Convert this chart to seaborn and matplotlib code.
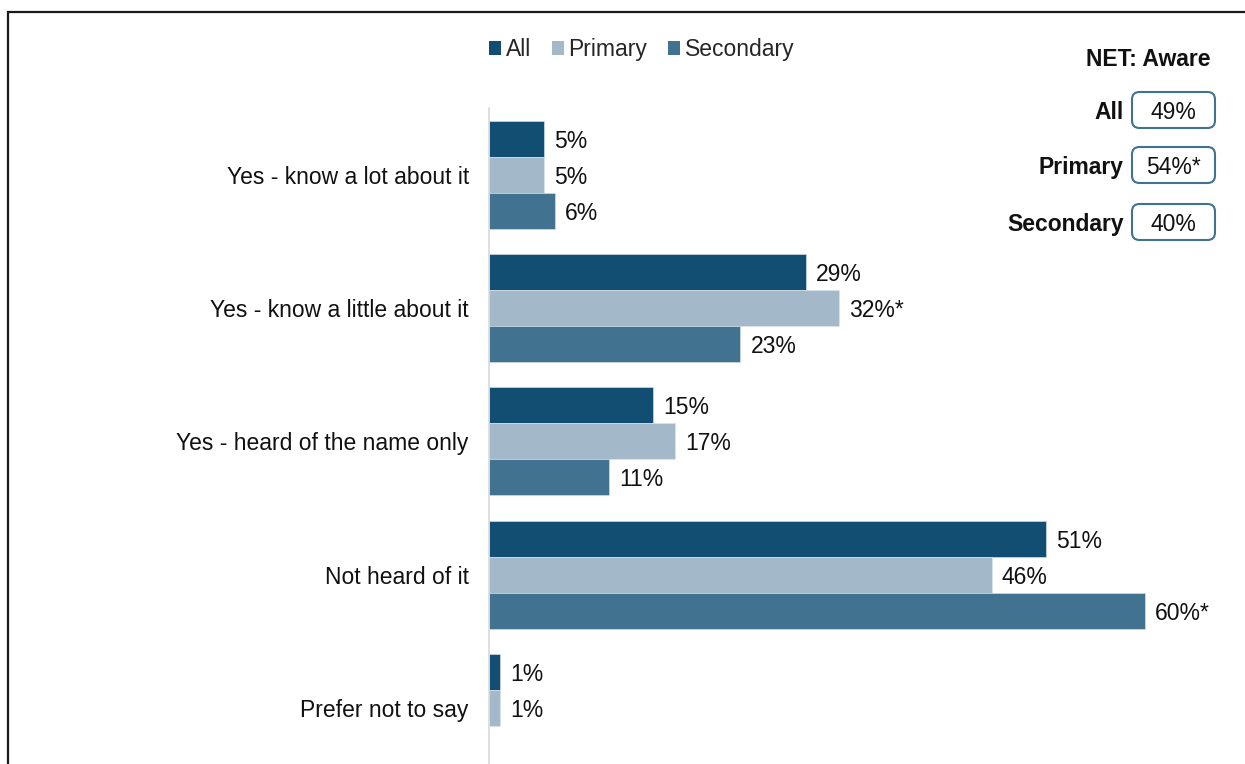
import numpy as np
import pandas as pd
import matplotlib
matplotlib.use("Agg")
import matplotlib.pyplot as plt
from matplotlib.patches import Rectangle, FancyBboxPatch
import seaborn as sns

# Survey responses (% of respondents)
categories = [
    "Yes - know a lot about it",
    "Yes - know a little about it",
    "Yes - heard of the name only",
    "Not heard of it",
    "Prefer not to say",
]
groups = ["All", "Primary", "Secondary"]
all_values = [5, 29, 15, 51, 1]
primary_values = [5, 32, 17, 46, 1]
secondary_values = [6, 23, 11, 60, np.nan]
# significance markers shown next to the value
primary_sig = [False, True, False, False, False]
secondary_sig = [False, False, False, True, False]
all_sig = [False] * 5

net_labels = ["All", "Primary", "Secondary"]
net_values = ["49%", "54%*", "40%"]

colors = {"All": "#114e72", "Primary": "#a3b9c9", "Secondary": "#41728f"}

sns.set_theme(style="white")
plt.rcParams["font.family"] = ["Liberation Sans", "DejaVu Sans"]

W, H = 1245, 764
fig = plt.figure(figsize=(W / 100, H / 100), dpi=100)

def fx(px):
    return px / W

def fy(py):
    return 1 - py / H

# axes geometry in pixels
ax_left, ax_right, ax_top = 489, 1230, 108
cat_step = 133.3
ax_bottom = ax_top + cat_step * len(categories)
ax = fig.add_axes([fx(ax_left), fy(ax_bottom), fx(ax_right - ax_left),
                   (ax_bottom - ax_top) / H])

df = pd.DataFrame({
    "category": categories * 3,
    "group": sum([[g] * len(categories) for g in groups], []),
    "value": all_values + primary_values + secondary_values,
})
df = df.dropna()

sns.barplot(data=df, x="value", y="category", hue="group", order=categories,
            hue_order=groups, palette=colors, orient="h", width=0.81,
            dodge=True, saturation=1, legend=False, ax=ax,
            edgecolor="#dfe7ee", linewidth=0.4)

sig_map = {"All": all_sig, "Primary": primary_sig, "Secondary": secondary_sig}
for grp, container in zip(groups, ax.containers):
    for bar in container:
        w = bar.get_width()
        if np.isnan(w):
            continue
        yc = bar.get_y() + bar.get_height() / 2
        idx = int(round(yc))
        label = f"{w:.0f}%" + ("*" if sig_map[grp][idx] else "")
        ax.annotate(label, xy=(w, yc), xytext=(7.3, 0), textcoords="offset points",
                    ha="left", va="center_baseline", fontsize=16.5, color="#111111")

px_per_pct = 10.93
ax.set_xlim(0, (ax_right - ax_left) / px_per_pct)
ax.set_ylim(len(categories) - 0.5, -0.5)
ax.set_xlabel("")
ax.set_ylabel("")
ax.set_xticks([])
ax.tick_params(axis="y", length=0, pad=14.5, labelsize=16.5, labelcolor="#111111")
for s in ["top", "right", "bottom"]:
    ax.spines[s].set_visible(False)
ax.spines["left"].set_color("#d9d9d9")
ax.spines["left"].set_linewidth(1.2)
ax.set_facecolor("none")

# legend
handles = [Rectangle((0, 0), 1, 1, facecolor=colors[g], edgecolor="none") for g in groups]
fig.legend(handles, groups, loc="center left", bbox_to_anchor=(fx(489), fy(49.5)),
           ncol=3, frameon=False, fontsize=16.5, handlelength=0.52,
           handleheight=0.52, handletextpad=0.2, columnspacing=0.92,
           borderpad=0, borderaxespad=0)

# NET: Aware panel
fig.text(fx(1210), fy(57), "NET: Aware", ha="right", va="center_baseline",
         fontsize=16.5, fontweight="bold", color="#111111")
box_centers = [110, 165, 222]
for lab, val, yc in zip(net_labels, net_values, box_centers):
    fig.text(fx(1124), fy(yc), lab, ha="right", va="center_baseline", fontsize=16.5,
             fontweight="bold", color="#111111")
    box = FancyBboxPatch((fx(1132), fy(yc + 18)), fx(83), 36 / H,
                         boxstyle="round,pad=0,rounding_size=0.006",
                         transform=fig.transFigure, facecolor="white",
                         edgecolor="#41728f", linewidth=1.5, mutation_aspect=W / H)
    fig.patches.append(box)
    fig.text(fx(1173.5), fy(yc), val, ha="center", va="center_baseline", fontsize=16.5,
             color="#111111")

# outer frame
frame = Rectangle((fx(8), fy(H + 20)), fx(W + 20), (H + 20 - 12) / H,
                  transform=fig.transFigure, facecolor="none",
                  edgecolor="#1a1a1a", linewidth=1.6, clip_on=False)
fig.patches.append(frame)

fig.savefig("out.png", dpi=100)
